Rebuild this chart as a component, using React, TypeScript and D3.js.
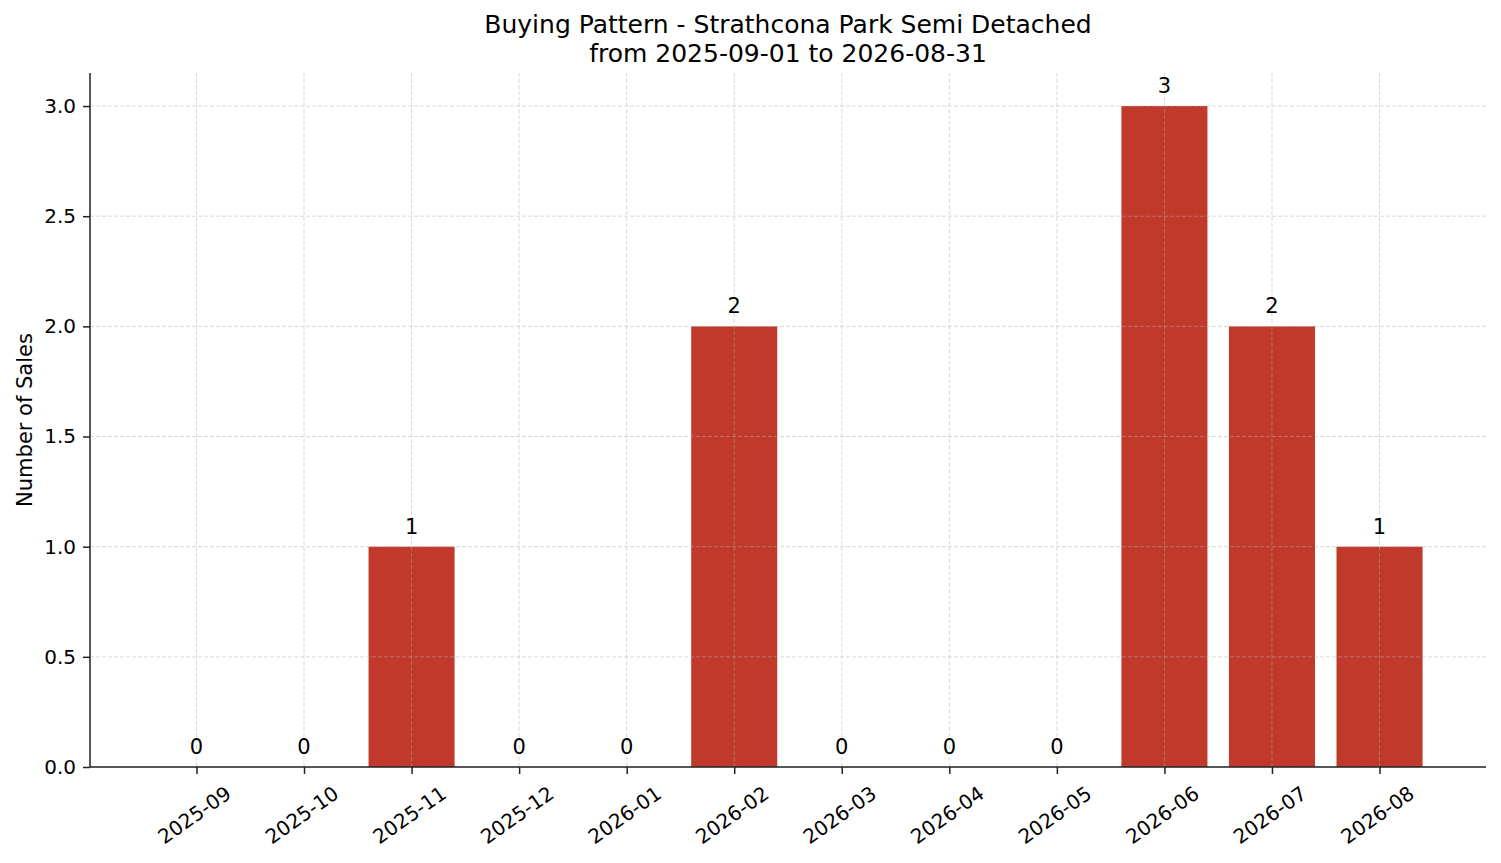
import React, { useEffect, useRef } from "react";
import * as d3 from "d3";

// monthly sales counts
const months = [
  "2025-09", "2025-10", "2025-11", "2025-12", "2026-01", "2026-02",
  "2026-03", "2026-04", "2026-05", "2026-06", "2026-07", "2026-08",
];
const sales = [0, 0, 1, 0, 0, 2, 0, 0, 0, 3, 2, 1];
const yTicks = [0, 0.5, 1, 1.5, 2, 2.5, 3];

const titleLines = [
  "Buying Pattern - Strathcona Park Semi Detached",
  "from 2025-09-01 to 2026-08-31",
];

export default function App() {
  const ref = useRef<SVGSVGElement>(null);

  useEffect(() => {
    if (!ref.current) return;
    const width = 1501;
    const height = 863;
    const margin = { top: 73, right: 15, bottom: 96, left: 90 };
    const font = "'DejaVu Sans', sans-serif";

    const svg = d3.select(ref.current);
    svg.selectAll("*").remove();

    const x = d3
      .scalePoint<string>()
      .domain(months)
      .range([margin.left, width - margin.right])
      .padding(0.99);
    const barW = x.step() * 0.8;

    const y = d3
      .scaleLinear()
      .domain([0, 3.15])
      .range([height - margin.bottom, margin.top]);

    // bars
    svg
      .append("g")
      .selectAll("rect")
      .data(sales)
      .join("rect")
      .attr("x", (_, i) => (x(months[i]) ?? 0) - barW / 2)
      .attr("y", (d) => y(d))
      .attr("width", barW)
      .attr("height", (d) => y(0) - y(d))
      .attr("fill", "#c0392b");

    // grid on top of bars
    const grid = svg
      .append("g")
      .attr("stroke", "#b0b0b0")
      .attr("stroke-opacity", 0.6)
      .attr("stroke-width", 0.8)
      .attr("stroke-dasharray", "4,2");
    grid
      .selectAll("line.h")
      .data(yTicks)
      .join("line")
      .attr("x1", margin.left)
      .attr("x2", width - margin.right)
      .attr("y1", (d) => y(d))
      .attr("y2", (d) => y(d));
    grid
      .selectAll("line.v")
      .data(months)
      .join("line")
      .attr("x1", (d) => x(d) ?? 0)
      .attr("x2", (d) => x(d) ?? 0)
      .attr("y1", margin.top)
      .attr("y2", height - margin.bottom);

    // value labels
    svg
      .append("g")
      .selectAll("text")
      .data(sales)
      .join("text")
      .attr("x", (_, i) => x(months[i]) ?? 0)
      .attr("y", (d) => y(d) - 13)
      .attr("text-anchor", "middle")
      .attr("font-family", font)
      .attr("font-size", 21)
      .attr("fill", "#000")
      .text((d) => String(d));

    // y axis
    const yAxis = svg
      .append("g")
      .attr("transform", `translate(${margin.left},0)`)
      .call(
        d3
          .axisLeft(y)
          .tickValues(yTicks)
          .tickFormat(d3.format(".1f"))
          .tickSize(7)
          .tickPadding(7)
      );
    yAxis.select(".domain").attr("stroke", "#222").attr("stroke-width", 1.5)
      .attr("d", `M0,${y(0)}V${margin.top}`);
    yAxis.selectAll(".tick line").attr("stroke", "#222").attr("stroke-width", 1.5);
    yAxis
      .selectAll(".tick text")
      .attr("font-family", font)
      .attr("font-size", 20)
      .attr("fill", "#000");

    // x axis
    const xAxis = svg
      .append("g")
      .attr("transform", `translate(0,${y(0)})`)
      .call(d3.axisBottom(x).tickSize(7).tickFormat(() => ""));
    xAxis.select(".domain").attr("stroke", "#222").attr("stroke-width", 1.5)
      .attr("d", `M${margin.left},0H${width - margin.right}`);
    xAxis.selectAll(".tick line").attr("stroke", "#222").attr("stroke-width", 1.5);

    // rotated month labels, bbox centred under each tick
    svg
      .append("g")
      .selectAll("text")
      .data(months)
      .join("text")
      .attr("transform", (d) => `translate(${(x(d) ?? 0) - 2},${y(0) + 48}) rotate(-35)`)
      .attr("text-anchor", "middle")
      .attr("dy", "0.35em")
      .attr("font-family", font)
      .attr("font-size", 20)
      .attr("fill", "#000")
      .text((d) => d);

    // y label
    svg
      .append("text")
      .attr("transform", `translate(32,${(margin.top + y(0)) / 2}) rotate(-90)`)
      .attr("text-anchor", "middle")
      .attr("font-family", font)
      .attr("font-size", 21)
      .attr("fill", "#000")
      .text("Number of Sales");

    // title
    svg
      .append("g")
      .selectAll("text")
      .data(titleLines)
      .join("text")
      .attr("x", (margin.left + width - margin.right) / 2)
      .attr("y", (_, i) => 33 + i * 29)
      .attr("text-anchor", "middle")
      .attr("font-family", font)
      .attr("font-size", 25)
      .attr("fill", "#000")
      .text((d) => d);
  }, []);

  return (
    <svg
      ref={ref}
      width={1501}
      height={863}
      style={{ position: "absolute", left: 0, top: 0, background: "#fff" }}
    />
  );
}
